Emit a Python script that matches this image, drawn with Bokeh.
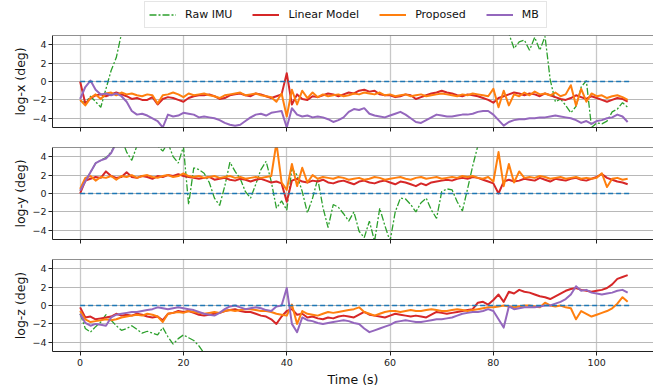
from bokeh.plotting import figure
from bokeh.models import Range1d, FixedTicker, Span, Legend, LegendItem
from bokeh.layouts import column
from bokeh.embed import file_html
from bokeh.resources import INLINE

# ---------------- data ----------------
t = list(range(107))  # time samples, s
series_names = ["Raw IMU", "Linear Model", "Proposed", "MB"]
series_colors = ["#2ca02c", "#d62728", "#ff7f0e", "#9467bd"]
x_ticks = [0, 20, 40, 60, 80, 100]
y_ticks = [-4, -2, 0, 2, 4]
y_tick_labels = ["\u22124", "\u22122", "0", "2", "4"]
y_labels = ["log-x (deg)", "log-y (deg)", "log-z (deg)"]
zero_t = [0, 106.5]
zero_v = [0, 0]

# ---- log-x ----
raw_x = [
    -2.1, -2.3, -1.6, -2.2, -2.8, -0.8, 1.2, 2.6, 5.2, 7.0,
    8.5, 10, 11, 12, 12.5, 13, 13.5, 14, 14, 14.5,
    15, 15, 15.5, 15, 15, 14.5, 14, 14, 13.5, 13,
    13, 12.5, 12, 12, 11.5, 11, 11, 10.5, 10, 10,
    9.5, 9.5, 9, 9, 8.5, 8.5, 8, 8, 8, 7.5,
    7.5, 7.5, 7, 7, 7.2, 7, 6.8, 6.6, 6.5, 6.7,
    6.5, 6.8, 6.6, 6.5, 6.9, 6.7, 6.5, 6.6, 6.8, 6.5,
    6.6, 6.7, 6.5, 6.8, 6.6, 6.5, 6.7, 6.6, 6.5, 6.4,
    6.5, 6.0, 5.8, 5.2, 3.6, 4.3, 4.5, 3.4, 4.8, 3.4,
    4.9, 0.2, -2.2, -1.9, -2.6, -3.4, -2.7, -0.6, 0.1, -5.0,
    -4.5, -4.6, -4.3, -3.3, -3.0, -2.3, -2.8]
lin_x = [
    0.0, -2.4, -1.8, -1.5, -1.4, -1.6, -1.4, -1.2, -1.4, -1.6,
    -1.9, -1.8, -2.0, -2.0, -1.7, -2.5, -1.9, -1.7, -1.8, -2.0,
    -2.2, -1.8, -1.6, -1.5, -1.5, -1.4, -1.6, -1.9, -1.8, -1.5,
    -1.4, -1.3, -1.5, -1.6, -1.3, -1.4, -1.6, -1.8, -1.6, -1.4,
    0.9, -2.5, -1.4, -1.9, -2.0, -1.6, -1.7, -1.5, -1.3, -1.4,
    -1.6, -1.4, -1.2, -1.3, -1.0, -0.9, -1.1, -1.0, -1.4, -1.5,
    -1.5, -1.7, -1.6, -1.4, -1.5, -1.9, -1.7, -1.5, -1.3, -1.2,
    -1.0, -1.2, -1.3, -1.5, -1.6, -1.4, -1.5, -1.6, -1.8, -2.0,
    -2.3, -1.8, -1.6, -1.4, -1.2, -1.3, -1.5, -1.3, -1.4, -1.6,
    -1.3, -1.5, -1.7, -1.9, -2.0, -1.8, -1.5, -1.7, -1.9, -1.6,
    -1.8, -2.0, -2.2, -2.0, -1.8, -1.9, -2.2]
prop_x = [
    -2.0, -2.6, -1.8, -1.4, -1.9, -1.3, -1.2, -1.5, -1.2, -1.4,
    -1.3, -1.5, -1.6, -1.4, -1.5, -2.4, -1.5, -1.4, -1.2, -1.4,
    -1.7, -1.3, -1.5, -1.4, -1.3, -1.5, -1.6, -1.8, -1.5, -1.4,
    -1.3, -1.2, -1.5, -1.4, -1.3, -1.5, -1.6, -1.7, -2.2, -1.3,
    -3.8, -0.9, -2.5, -1.0, -1.8, -1.2, -1.7, -1.4, -1.6, -1.5,
    -1.4, -1.6, -1.5, -1.3, -1.4, -1.2, -1.3, -1.4, -1.2, -1.5,
    -1.4, -1.6, -1.5, -1.4, -1.6, -1.5, -1.4, -1.6, -1.5, -1.4,
    -1.3, -1.4, -1.5, -1.6, -1.4, -1.5, -1.3, -1.4, -1.5, -1.6,
    -0.8, -2.8, -1.0, -2.6, -1.4, -1.6, -1.2, -1.5, -1.1, -1.4,
    -1.3, -1.5, -1.2, -1.6, -1.4, -0.4, -2.6, -0.8, -2.2, -1.3,
    -1.6, -1.5, -1.8, -1.6, -1.5, -1.7, -2.0]
mb_x = [
    -1.9, -0.6, 0.1, -0.9, -1.4, -1.3, -1.5, -1.3, -1.6, -2.2,
    -3.2, -3.6, -3.5, -3.7, -4.0, -4.3, -5.0, -3.6, -3.8, -3.7,
    -3.4, -3.5, -3.6, -3.9, -3.8, -3.9, -4.0, -4.2, -4.5, -4.7,
    -4.8, -4.7, -4.3, -3.9, -3.6, -3.5, -3.7, -3.4, -3.3, -3.2,
    -5.0, -2.9, -3.6, -3.8, -3.7, -3.9, -3.8, -3.9, -4.1, -4.4,
    -4.2, -3.9, -3.3, -3.0, -3.1, -2.9, -3.5, -3.7, -3.8, -3.9,
    -3.7, -3.5, -3.3, -3.6, -4.0, -4.4, -4.5, -4.2, -3.9, -3.6,
    -3.7, -3.8, -3.8, -3.7, -3.6, -3.6, -3.5, -3.3, -3.2, -3.2,
    -3.6, -4.2, -4.8, -4.4, -4.2, -4.1, -4.1, -4.0, -4.0, -3.9,
    -3.9, -3.8, -3.7, -3.8, -3.9, -4.0, -4.2, -4.5, -4.3, -4.6,
    -4.3, -4.2, -4.0, -3.9, -3.6, -3.8, -4.4]

# ---- log-y ----
raw_y = [
    0.3, 1.4, 2.3, 3.3, 3.6, 3.9, 4.5, 5.5, 6.0, 4.5,
    3.6, 5.2, 7.0, 8.0, 6.0, 5.2, 4.6, 5.5, 4.0, 3.3,
    5.1, -1.2, 2.8, 2.6, 2.2, 1.2, -0.5, -1.3, 0.8, 3.4,
    2.4, 1.6, 0.2, -0.5, 1.0, 2.6, 3.5, 1.3, -1.6, -0.8,
    -1.8, 2.7, 2.0, 0.2, -2.1, -0.5, 1.6, -1.5, -3.7, -1.2,
    -1.5, -2.2, -3.0, -2.0, -4.1, -4.8, -3.0, -5.2, -1.6, -3.5,
    -5.2, -2.0, -0.5, -0.6, -1.2, -2.0, -1.0, -0.5, -1.8, -2.7,
    0.2, 0.5, 0.4, -0.9, -1.9, 0.5, 3.0, 5.2, 7.0, 8.5,
    9.5, 10, 10.5, 11, 11, 11.5, 11.5, 12, 12, 12,
    12, 12, 12, 12, 11.5, 11.5, 11, 11, 11, 10.5,
    10.5, 10, 10, 10, 10, 10, 10]
lin_y = [
    0.0, 1.4, 1.6, 1.8, 1.7, 2.4, 1.9, 1.7, 1.8, 2.3,
    1.8, 1.7, 1.9, 1.8, 1.6, 1.9, 1.8, 2.0, 1.9, 2.1,
    1.9, 1.8, 1.7, 1.6, 1.7, 1.8, 1.5, 1.6, 1.7, 1.5,
    1.4, 1.6, 1.5, 1.3, 1.5, 1.6, 1.4, 1.2, 1.3, 1.1,
    -0.9, 1.4, 1.6, 1.3, 1.2, 1.4, 1.3, 1.5, 1.2, 1.1,
    1.3, 1.4, 1.2, 1.0, 1.3, 1.4, 1.2, 1.1, 1.3, 1.4,
    1.2, 1.0, 1.3, 1.2, 1.0, 0.8, 1.1, 0.9, 1.2, 1.3,
    1.4, 1.5, 1.4, 1.6, 1.7, 1.6, 1.8, 1.7, 1.5, 1.3,
    1.1, 0.0, 1.3, 1.5, 1.3, 1.4, 1.6, 1.5, 1.4, 1.7,
    1.5, 1.3, 1.6, 1.5, 1.4, 1.6, 1.7, 1.5, 1.4, 1.6,
    1.8, 2.1, 1.7, 1.5, 1.3, 1.2, 1.0]
prop_y = [
    0.5, 1.7, 1.9, 1.4, 1.8, 1.7, 1.9, 1.5, 1.9, 1.8,
    2.0, 1.7, 1.9, 2.0, 1.8, 1.7, 1.9, 2.0, 1.8, 1.9,
    2.2, 1.9, 1.8, 1.9, 1.7, 1.8, 1.9, 1.7, 1.8, 1.9,
    1.7, 1.8, 1.6, 1.7, 1.8, 1.7, 1.8, 1.9, 5.5, 1.2,
    0.4, 3.2, 0.8, 2.8, 1.2, 2.0, 1.6, 1.8, 1.7, 1.6,
    1.8, 1.7, 1.5, 1.6, 1.7, 1.5, 1.6, 1.8, 1.7, 1.5,
    1.6, 1.7, 1.8, 1.6, 1.5, 1.7, 1.8, 1.6, 1.7, 1.8,
    1.6, 1.7, 1.8, 1.7, 1.9, 1.8, 1.9, 1.7, 1.6, 1.8,
    1.3, 4.5, 0.8, 3.2, 1.2, 2.4, 1.7, 1.8, 1.7, 1.9,
    1.8, 1.6, 1.7, 1.8, 1.6, 1.7, 1.8, 1.6, 1.7, 1.6,
    1.7, 2.2, 0.7, 1.6, 1.7, 1.5, 1.6]
mb_y_t = [0, 1, 2, 3, 4, 5, 6, 7, 8]
mb_y = [0.3, 1.3, 2.3, 3.3, 3.6, 3.8, 4.4, 5.5, 7.0]

# ---- log-z ----
raw_z = [
    -0.9, -2.5, -2.9, -2.3, -1.8, -1.0, -1.6, -2.2, -2.7, -2.5,
    -2.2, -2.6, -3.0, -2.8, -3.0, -3.2, -2.4, -3.4, -4.2, -3.6,
    -3.2, -3.5, -3.8, -4.4, -5.2, -5.8, -6.3, -6.8, -7.2, -7.5,
    -7.8, -8.0, -8.3, -8.5, -8.7, -9.0, -9.2, -9.5, -9.6, -9.8,
    -10.0, -10.2, -10.3, -10.5, -10.6, -10.8, -11.0, -11.0, -11.2, -11.3,
    -11.5, -11.6, -11.8, -12.0, -12.0, -12.2, -12.3, -12.5, -12.6, -12.8,
    -13.0, -13.0, -13.2, -13.3, -13.5, -13.6, -13.8, -14.0, -14.0, -14.2,
    -14.3, -14.5, -14.6, -14.8, -15.0, -15.0, -15.2, -15.3, -15.5, -15.6,
    -15.8, -16.0, -16.0, -16.2, -16.3, -16.5, -16.6, -16.8, -17.0, -17.0,
    -17.2, -17.3, -17.5, -17.6, -17.8, -18.0, -18.0, -18.2, -18.3, -18.5,
    -18.6, -18.8, -19.0, -19.0, -19.2, -19.3, -19.5]
lin_z = [
    -0.2, -1.3, -1.2, -1.5, -1.4, -1.3, -1.2, -0.9, -1.1, -1.0,
    -1.1, -0.9, -1.0, -1.2, -1.3, -1.2, -1.6, -0.9, -0.8, -0.6,
    -0.7, -0.6, -0.8, -1.0, -1.1, -1.0, -0.9, -0.8, -0.6, -0.5,
    -0.4, -0.6, -0.7, -0.7, -0.9, -1.1, -1.2, -1.5, -2.0, -1.2,
    -0.6, -0.4, -1.0, -0.9, -1.3, -1.2, -1.4, -1.5, -1.3, -1.4,
    -1.2, -1.1, -1.2, -1.3, -1.0, -0.7, -1.0, -1.1, -1.2, -1.3,
    -1.1, -0.9, -1.0, -1.1, -1.2, -1.1, -1.2, -1.3, -1.0, -0.7,
    -0.8, -0.9, -0.8, -0.7, -0.6, -0.5, -0.4, 0.3, 0.4, 0.1,
    0.6, 1.2, 0.4, 1.5, 1.3, 1.7, 1.5, 1.4, 1.2, 1.0,
    0.9, 0.7, 1.0, 1.3, 1.6, 1.8, 1.9, 1.7, 1.6, 1.5,
    1.6, 1.7, 1.9, 2.3, 2.9, 3.1, 3.3]
prop_z = [
    -0.6, -1.5, -1.8, -1.7, -1.6, -1.5, -1.6, -1.5, -1.3, -1.2,
    -1.1, -1.0, -1.1, -0.9, -1.0, -1.2, -1.8, -0.9, -0.8, -0.7,
    -0.8, -0.6, -0.7, -0.8, -0.9, -0.8, -0.7, -0.8, -0.6, -0.5,
    -0.6, -0.5, -0.4, -0.4, -0.5, -0.6, -0.6, -0.7, -0.9, -1.0,
    -1.1, 0.1, -2.0, -0.6, -0.9, -1.0, -1.1, -0.9, -0.7, -0.8,
    -0.7, -0.6, -0.5, -0.4, -0.2, -0.7, -0.9, -1.1, -0.9, -0.7,
    -0.6, -0.6, -0.7, -0.6, -0.5, -0.6, -0.6, -0.5, -0.4, -0.5,
    -0.6, -0.6, -0.5, -0.4, -0.5, -0.6, -0.5, -0.4, -0.3, -0.2,
    -0.2, -0.1, 0.0, -0.1, -0.2, -0.1, 0.0, 0.0, -0.1, -0.2,
    0.3, 0.0, -0.1, 0.0, -0.2, -0.3, -1.5, -0.6, -0.9, -1.2,
    -1.0, -0.8, -0.6, -0.3, 0.2, 0.9, 0.4]
mb_z = [
    -0.9, -1.9, -2.2, -2.0, -2.1, -2.2, -1.3, -1.0, -0.9, -0.8,
    -0.7, -0.7, -0.6, -0.5, -0.4, -0.2, -0.3, -0.4, -0.3, -0.2,
    -0.3, -0.4, -0.5, -0.7, -0.9, -1.0, -1.1, -0.8, -0.4, -0.1,
    0.0, -0.2, -0.4, -0.3, -0.2, -0.3, -0.5, -0.6, -0.1, 0.0,
    1.9, -2.0, -2.9, -1.3, -1.6, -1.7, -1.9, -2.0, -1.9, -1.8,
    -1.7, -1.6, -1.7, -1.9, -2.0, -2.5, -2.9, -2.7, -2.5, -2.3,
    -2.1, -1.8, -1.7, -1.6, -1.7, -1.8, -1.8, -1.7, -1.6, -1.5,
    -1.5, -1.4, -1.3, -1.1, -0.9, -0.8, -0.7, -0.7, -0.6, -0.4,
    -0.6, -1.5, -2.4, -0.1, -0.4, -0.3, -0.2, -0.2, -0.2, -0.1,
    0.0, 0.0, 0.2, 0.4, 0.7, 1.2, 2.1, 1.6, 1.7, 1.4,
    1.3, 1.2, 1.3, 1.4, 1.6, 1.7, 1.4]

# ---------------- figure ----------------
FONT = "DejaVu Sans"
x_range = Range1d(-5.35, 111.0)
RAW_DASH = "7 2 2 2"
FRAME_W = 601
FRAME_H = 92
LEFT = 52


def make_panel(ylabel, raw, lin, prop, mb_t, mb, show_xlabels, top, bottom):
    p = figure(frame_width=FRAME_W, frame_height=FRAME_H, x_range=x_range,
               y_range=Range1d(-5, 5), output_backend="svg",
               toolbar_location=None, min_border_left=LEFT,
               min_border_right=0, min_border_top=top,
               min_border_bottom=bottom)
    p.outline_line_color = None
    p.background_fill_color = "white"
    p.border_fill_color = "white"
    p.xaxis.ticker = FixedTicker(ticks=x_ticks)
    p.yaxis.ticker = FixedTicker(ticks=y_ticks)
    p.yaxis.major_label_overrides = dict(zip(y_ticks, y_tick_labels))
    for ax in p.axis:
        ax.axis_line_color = "#222222"
        ax.axis_line_width = 1
        ax.major_tick_line_color = "#222222"
        ax.major_tick_out = 4
        ax.major_tick_in = 0
        ax.minor_tick_line_color = None
        ax.major_label_text_font = FONT
        ax.major_label_text_font_size = "9.5px"
        ax.major_label_text_color = "#222222"
        ax.major_label_standoff = 3
        ax.axis_label_text_font = FONT
        ax.axis_label_text_font_size = "12.5px"
        ax.axis_label_text_font_style = "normal"
        ax.axis_label_text_color = "#111111"
        ax.axis_label_standoff = 4
    p.yaxis.axis_label = ylabel
    p.yaxis.axis_label_standoff = 1
    p.yaxis.major_label_standoff = 2
    if show_xlabels:
        p.xaxis.axis_label = "Time (s)"
        p.xaxis.axis_label_standoff = 3
    else:
        # shared x axis: tick marks only, labels not painted
        p.xaxis.major_label_text_color = None
        p.xaxis.major_label_text_font_size = "1px"
        p.xaxis.major_label_standoff = 0
    p.xgrid.grid_line_color = "#c8c8c8"
    p.xgrid.grid_line_width = 1.3
    p.ygrid.grid_line_color = "#b8b8b8"
    p.ygrid.grid_line_width = 1
    p.add_layout(Span(location=5, dimension="width",
                      line_color="#222222", line_width=1))

    p.line(t, raw, line_color=series_colors[0], line_width=1.3,
           line_dash=RAW_DASH)
    p.line(t, lin, line_color=series_colors[1], line_width=2,
           line_join="round")
    p.line(t, prop, line_color=series_colors[2], line_width=2,
           line_join="round")
    p.line(mb_t, mb, line_color=series_colors[3], line_width=2,
           line_join="round")
    p.line(zero_t, zero_v, line_color="#1f77b4", line_width=1.6,
           line_dash="5 3")
    return p


p1 = make_panel(y_labels[0], raw_x, lin_x, prop_x, t, mb_x, False, 4, 10)
p2 = make_panel(y_labels[1], raw_y, lin_y, prop_y, mb_y_t, mb_y, False, 10, 10)
p3 = make_panel(y_labels[2], raw_z, lin_z, prop_z, t, mb_z, True, 10, 34)

# legend strip (its frame is aligned with the panels' frames)
lf = figure(frame_width=FRAME_W, frame_height=31, min_border_left=LEFT,
            min_border_right=0, min_border_top=0, min_border_bottom=0,
            toolbar_location=None, output_backend="svg",
            x_range=Range1d(0, 1), y_range=Range1d(0, 1))
lf.axis.visible = False
lf.grid.visible = False
lf.outline_line_color = None
items = []
for i, (name, col) in enumerate(zip(series_names, series_colors)):
    # legend-key lines kept outside the strip's visible range
    if i == 0:
        r = lf.line([-2, -1], [-2, -1], line_color=col, line_width=1.3,
                    line_dash=RAW_DASH)
    else:
        r = lf.line([-2, -1], [-2, -1], line_color=col, line_width=2)
    items.append(LegendItem(label=name, renderers=[r]))
legend = Legend(items=items, orientation="horizontal", location=(92, 3),
                glyph_width=27, glyph_height=17, label_height=17,
                label_standoff=9, spacing=20, padding=4, margin=0,
                label_text_font=FONT, label_text_font_size="11px",
                label_text_color="#111111",
                border_line_color="#cccccc", border_line_width=1,
                background_fill_color="white", background_fill_alpha=1)
lf.add_layout(legend)

layout = column(lf, p1, p2, p3, spacing=0)

open("out.html", "w").write(file_html(layout, INLINE))
